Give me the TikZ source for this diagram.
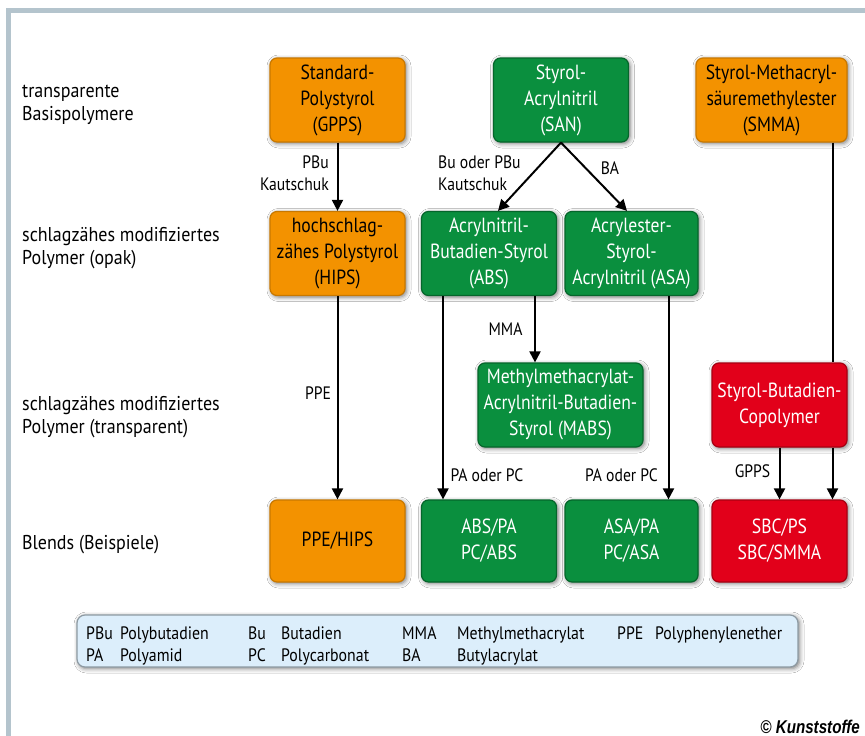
\documentclass[tikz,border=0pt]{standalone}
\usepackage{fontspec}
\setmainfont{PT Sans}[FakeStretch=0.86]
\newfontfamily\boxfont{PT Sans}[FakeStretch=0.86]
\newfontfamily\rowfont{PT Sans}[FakeStretch=0.90]
\newfontfamily\arrfont{PT Sans}[FakeStretch=0.87]
\newfontfamily\legfont{PT Sans}[FakeStretch=0.88]
\newfontfamily\kfont{Liberation Sans}[FakeStretch=0.82]
\usetikzlibrary{arrows.meta,shadows.blur,calc}
\definecolor{framec}{HTML}{B4C4CD}
\definecolor{orfill}{HTML}{F39200}
\definecolor{ordraw}{HTML}{C87800}
\definecolor{grfill}{HTML}{0A8F3E}
\definecolor{grdraw}{HTML}{05662B}
\definecolor{rdfill}{HTML}{E2001A}
\definecolor{rddraw}{HTML}{A80012}
\definecolor{legfill}{HTML}{DCEEFB}
\definecolor{legdraw}{HTML}{8D9AA3}
\begin{document}
\begin{tikzpicture}[x=1pt,y=-1pt,
  shad/.style={blur shadow={shadow xshift=1.5pt, shadow yshift=-1.5pt, shadow blur radius=4.5pt, shadow opacity=55}},
  box/.style={rounded corners=7pt, minimum width=135pt, minimum height=84pt,
    line width=1.2pt, align=center, inner sep=0pt,
    font=\boxfont\fontsize{20.5}{26}\selectfont, shad},
  obox/.style={box, fill=orfill, draw=ordraw, text=black},
  gbox/.style={box, fill=grfill, draw=grdraw, text=white},
  rbox/.style={box, fill=rdfill, draw=rddraw, text=white},
  rowlab/.style={anchor=west, align=left, inner sep=0pt, font=\rowfont\fontsize{20}{23}\selectfont},
  arrlab/.style={inner sep=0pt, font=\arrfont\fontsize{18}{22}\selectfont},
  conn/.style={line width=2pt},
  arr/.style={conn, -{Triangle[length=11pt,width=11pt]}},
  leg/.style={anchor=base west, inner sep=0pt, font=\legfont\fontsize{18}{21}\selectfont}
]
\useasboundingbox (0,0) rectangle (865,736);
\fill[white] (0,0) rectangle (865,736);
\draw[framec, line width=5pt] (8.5,745) -- (8.5,10.5) -- (875,10.5);

% row labels
\node[rowlab] (r1) at (22,105) {transparente\\Basispolymere};
\node[rowlab] (r2) at (22,248) {schlagzähes modifiziertes\\Polymer (opak)};
\node[rowlab] (r3) at (22,417) {schlagzähes modifiziertes\\Polymer (transparent)};
\node[rowlab] (r4) at (22,545) {Blends (Beispiele)};

% boxes
\node[obox] (gpps) at (337.5,100) {Standard-\\Polystyrol\\(GPPS)};
\node[gbox] (san) at (561,100) {Styrol-\\Acrylnitril\\(SAN)};
\node[obox, minimum width=151pt] (smma) at (771.5,100) {Styrol-Methacryl-\\säuremethylester\\(SMMA)};
\node[obox] (hips) at (337.5,253.5) {hochschlag-\\zähes Polystyrol\\(HIPS)};
\node[gbox] (abs) at (489,253.5) {Acrylnitril-\\Butadien-Styrol\\(ABS)};
\node[gbox, minimum width=133pt] (asa) at (631.5,253.5) {Acrylester-\\Styrol-\\Acrylnitril (ASA)};
\node[gbox, minimum width=165pt] (mabs) at (560.5,405) {Methylmethacrylat-\\Acrylnitril-Butadien-\\Styrol (MABS)};
\node[rbox] (sbc) at (779.5,405) {Styrol-Butadien-\\Copolymer};
\node[obox, minimum height=82pt] (ppe) at (337.5,541) {PPE/HIPS};
\node[gbox, minimum height=82pt] (absb) at (489,541) {ABS/PA\\PC/ABS};
\node[gbox, minimum width=133pt, minimum height=82pt] (asab) at (631.5,541) {ASA/PA\\PC/ASA};
\node[rbox, minimum height=82pt] (sbcb) at (779.5,541) {SBC/PS\\SBC/SMMA};

% connectors
\draw[arr] (gpps.south) -- (hips.north);
\draw[arr] (san.south) -- ($(abs.north)+(9,0)$);
\draw[arr] (san.south) -- ($(asa.north)+(-4.5,0)$);
\draw[arr] (hips.south) -- (ppe.north);
\draw[arr] ([xshift=-46pt]abs.south) -- ([xshift=-46pt]abs.south |- absb.north);
\draw[arr] ([xshift=46pt]abs.south) -- ([xshift=46pt]abs.south |- mabs.north);
\draw[arr] ([xshift=37pt]asa.south) -- ([xshift=37pt]asa.south |- asab.north);
\draw[arr] (sbc.south) -- (sbcb.north);
% SMMA line passes behind the copolymer box
\draw[conn] ([xshift=61pt]smma.south) -- ([xshift=61pt]smma.south |- sbc.north);
\draw[arr] ([xshift=61pt]smma.south |- sbc.south) -- ([xshift=61pt]smma.south |- sbcb.north);

% connector labels
\node[arrlab, anchor=east, align=right] (l1) at (329,173) {PBu\\Kautschuk};
\node[arrlab, anchor=west, align=left] (l2) at (438,173) {Bu oder PBu\\Kautschuk};
\node[arrlab, anchor=base] (l3) at (610,174) {BA};
\node[arrlab, anchor=base] (l4) at (505.5,335) {MMA};
\node[arrlab, anchor=base] (l5) at (318,399) {PPE};
\node[arrlab, anchor=base] (l6) at (487,481) {PA oder PC};
\node[arrlab, anchor=base] (l7) at (621.5,481) {PA oder PC};
\node[arrlab, anchor=base] (l8) at (752.5,477) {GPPS};

% legend
\node[draw=legdraw, fill=legfill, rounded corners=8pt, line width=1.2pt,
  minimum width=721pt, minimum height=52pt, inner sep=0pt, shad] (legend) at (437.5,641) {};
\node[leg] (a1) at (86,639) {PBu};
\node[leg] (a2) at (120,639) {Polybutadien};
\node[leg] (a3) at (248,639) {Bu};
\node[leg] (a4) at (281,639) {Butadien};
\node[leg] (a5) at (402,639) {MMA};
\node[leg] (a6) at (457,639) {Methylmethacrylat};
\node[leg] (a7) at (617,639) {PPE};
\node[leg] (a8) at (655,639) {Polyphenylenether};
\node[leg] (b1) at (86,661) {PA};
\node[leg] (b2) at (120,661) {Polyamid};
\node[leg] (b3) at (248,661) {PC};
\node[leg] (b4) at (281,661) {Polycarbonat};
\node[leg] (b5) at (402,661) {BA};
\node[leg] (b6) at (457,661) {Butylacrylat};

\node[anchor=base east, inner sep=0pt, font=\kfont\bfseries\itshape\fontsize{18.5}{20}\selectfont] (copy) at (860,733) {© Kunststoffe};
\end{tikzpicture}
\end{document}
